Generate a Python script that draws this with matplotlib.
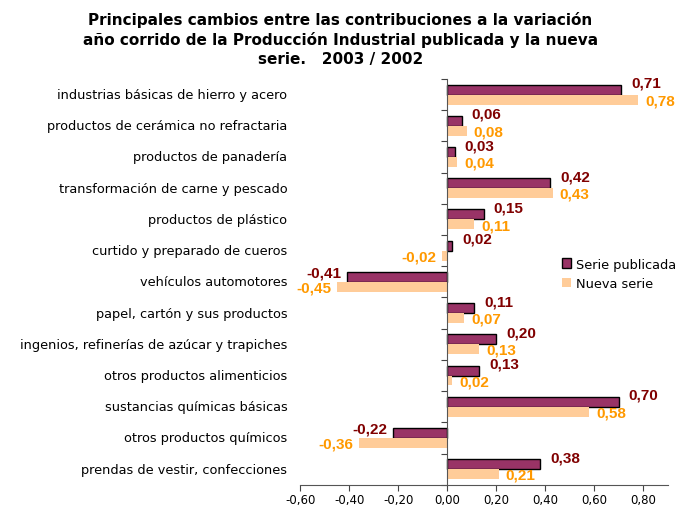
import numpy as np
import matplotlib
matplotlib.use('Agg')
from matplotlib import pyplot as plt

plt.rcParams['font.family'] = ['DejaVu Sans']

categorias = [
    'industrias básicas de hierro y acero',
    'productos de cerámica no refractaria',
    'productos de panadería',
    'transformación de carne y pescado',
    'productos de plástico',
    'curtido y preparado de cueros',
    'vehículos automotores',
    'papel, cartón y sus productos',
    'ingenios, refinerías de azúcar y trapiches',
    'otros productos alimenticios',
    'sustancias químicas básicas',
    'otros productos químicos',
    'prendas de vestir, confecciones',
]
serie_publicada = [0.71, 0.06, 0.03, 0.42, 0.15, 0.02, -0.41, 0.11, 0.20, 0.13, 0.70, -0.22, 0.38]
nueva_serie = [0.78, 0.08, 0.04, 0.43, 0.11, -0.02, -0.45, 0.07, 0.13, 0.02, 0.58, -0.36, 0.21]
xticks = [-0.6, -0.4, -0.2, 0.0, 0.2, 0.4, 0.6, 0.8]

col_pub, col_nue = '#993366', '#FFCC99'
txt_pub, txt_nue = '#800000', '#FF9900'
lbl_font = ['Liberation Sans', 'DejaVu Sans']


def fmt(v):
    return f'{v:.2f}'.replace('.', ',')


fig = plt.figure(figsize=(6.95, 5.06), dpi=100)
ax = fig.add_axes([0.432, 0.04, 0.529, 0.802])

y = np.arange(len(categorias))
h = 0.32
ax.barh(y - h / 2, serie_publicada, height=h, color=col_pub, edgecolor='black',
        linewidth=1.0, label='Serie publicada')
ax.barh(y + h / 2, nueva_serie, height=h, color=col_nue, edgecolor='none',
        label='Nueva serie')

# etiquetas de datos
for yi, v in zip(y, serie_publicada):
    if v >= 0:
        ax.annotate(fmt(v), (v, yi - h / 2), xytext=(7, 5), textcoords='offset points',
                    ha='left', va='center', color=txt_pub, fontsize=11,
                    fontweight='bold', family=lbl_font)
    else:
        ax.annotate(fmt(v), (v, yi - h / 2), xytext=(-4, 3), textcoords='offset points',
                    ha='right', va='center', color=txt_pub, fontsize=11,
                    fontweight='bold', family=lbl_font)
for yi, v in zip(y, nueva_serie):
    if v >= 0:
        ax.annotate(fmt(v), (v, yi + h / 2), xytext=(5, -0.5), textcoords='offset points',
                    ha='left', va='center', color=txt_nue, fontsize=11,
                    fontweight='bold', family=lbl_font)
    else:
        ax.annotate(fmt(v), (v, yi + h / 2), xytext=(-4, -0.5), textcoords='offset points',
                    ha='right', va='center', color=txt_nue, fontsize=11,
                    fontweight='bold', family=lbl_font)

# nombres de categorias a la izquierda del area
for yi, c in zip(y, categorias):
    ax.text(-0.035, yi, c, transform=ax.get_yaxis_transform(), ha='right', va='center',
            fontsize=9.3)

ax.set_xlim(-0.6, 0.9)
ax.set_ylim(len(categorias) - 0.5, -0.5)
ax.set_xticks(xticks)
ax.set_xticklabels([fmt(t) for t in xticks], fontsize=8.5)
ax.set_yticks(np.arange(len(categorias) + 1) - 0.5)
ax.set_yticklabels([])
ax.tick_params(axis='y', direction='out', length=4, color='#444444')
ax.tick_params(axis='x', direction='out', length=4, color='#444444', pad=2)

ax.spines['left'].set_position(('data', 0))
ax.spines['left'].set_color('#555555')
ax.spines['bottom'].set_color('#555555')
ax.spines['top'].set_visible(False)
ax.spines['right'].set_visible(False)

ax.legend(loc='center left', bbox_to_anchor=(0.68, 0.52), frameon=False, fontsize=9.3,
          handlelength=0.7, handleheight=0.7, handletextpad=0.4, labelspacing=0.5)

fig.text(0.49, 0.976, 'Principales cambios entre las contribuciones a la variación\n'
         'año corrido de la Producción Industrial publicada y la nueva\n'
         'serie.   2003 / 2002', ha='center', va='top', fontsize=11,
         fontweight='bold', linespacing=1.3)

fig.savefig('out.png', dpi=100)
